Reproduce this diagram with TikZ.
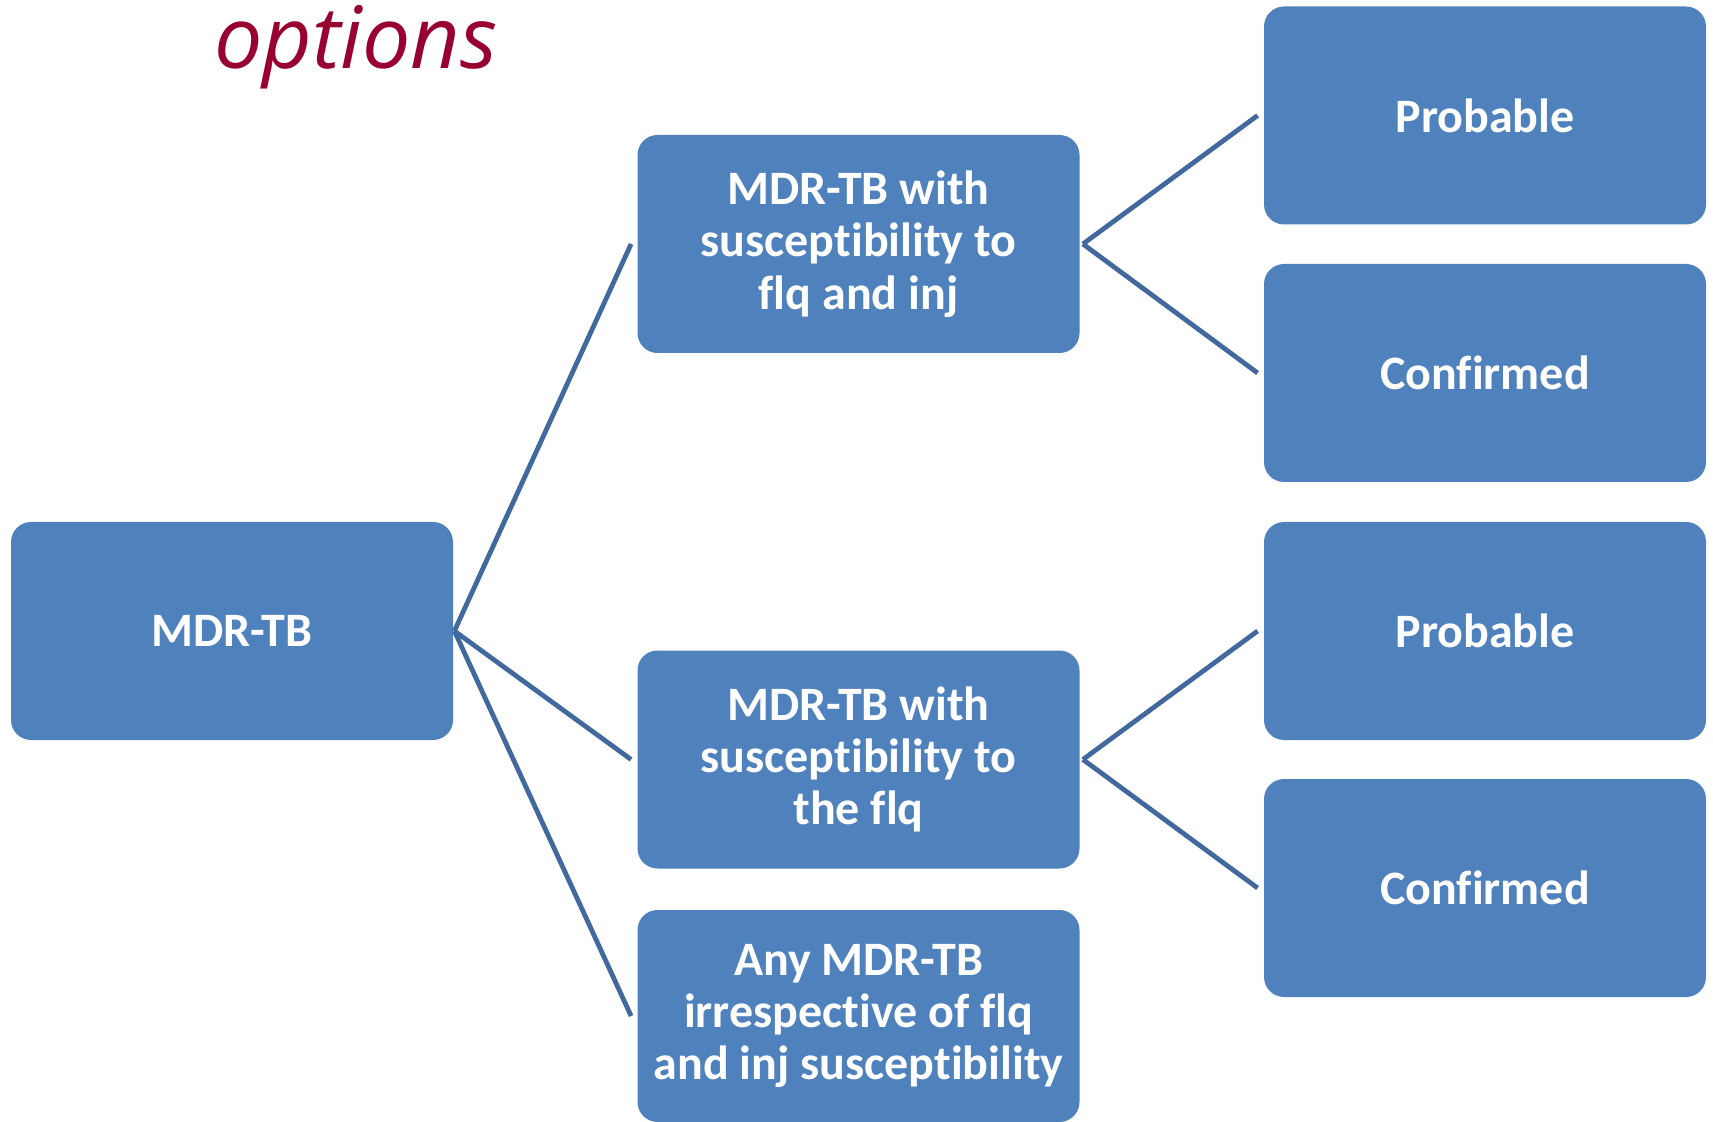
\documentclass[tikz,border=0pt]{standalone}
\usepackage{fontspec}
\setmainfont[Ligatures=NoCommon]{Carlito}
\newfontfamily\titlefont{Open Sans}
\definecolor{boxblue}{RGB}{79,129,189}
\definecolor{linkblue}{RGB}{65,105,158}
\definecolor{titlered}{RGB}{152,0,50}
\tikzset{
  tbbox/.style={rectangle,rounded corners=10pt,fill=boxblue,text=white,
    font={\fontsize{24pt}{26.2pt}\selectfont\bfseries},align=center,
    minimum width=221pt,minimum height=109pt,inner sep=0pt},
  link/.style={linkblue,line width=2.4pt}
}
\begin{document}
\begin{tikzpicture}[x=0.5pt,y=-0.5pt]
   \useasboundingbox (0,0) rectangle (1713,1122);
   % title
   \node[anchor=base west,inner sep=0pt,text=titlered,
     font={\titlefont\fontsize{43pt}{50pt}\selectfont\itshape}] (title) at (214,69) {options};
   % boxes
   \node[tbbox] (mdr) at (232,631) {MDR-TB};
   \node[tbbox] (fqinj) at (858.5,244) {MDR-TB with\\susceptibility to\\flq and inj};
   \node[tbbox] (fq) at (858.5,759.5) {MDR-TB with\\susceptibility to\\the flq};
   \node[tbbox,minimum height=106pt] (any) at (858.5,1016) {Any MDR-TB\\irrespective of flq\\and inj susceptibility};
   \node[tbbox] (prob1) at (1485,115.5) {Probable};
   \node[tbbox] (conf1) at (1485,373) {Confirmed};
   \node[tbbox] (prob2) at (1485,631) {Probable};
   \node[tbbox] (conf2) at (1485,888) {Confirmed};
   % connectors
   \coordinate (mdrtip) at ([xshift=0.5pt]mdr.east);
   \coordinate (fqinjtip) at ([xshift=1.5pt]fqinj.east);
   \coordinate (fqtip) at ([xshift=1.5pt]fq.east);
   \draw[link] (mdrtip)--([xshift=-3pt]fqinj.west);
   \draw[link] (mdrtip)--([xshift=-3pt]fq.west);
   \draw[link] (mdrtip)--([xshift=-3pt]any.west);
   \draw[link] (fqinjtip)--([xshift=-3pt]prob1.west);
   \draw[link] (fqinjtip)--([xshift=-3pt]conf1.west);
   \draw[link] (fqtip)--([xshift=-3pt]prob2.west);
   \draw[link] (fqtip)--([xshift=-3pt]conf2.west);
\end{tikzpicture}
\end{document}
